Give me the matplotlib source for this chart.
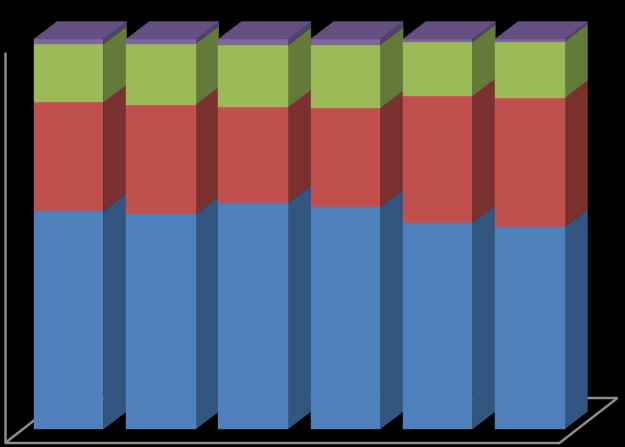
import matplotlib
matplotlib.use("Agg")
import matplotlib.pyplot as plt
import numpy as np

blue = [55.9, 55.1, 57.9, 56.9, 52.8, 51.8]
red = [27.9, 28.1, 24.6, 25.4, 32.6, 33.1]
green = [14.9, 15.6, 15.9, 16.2, 13.8, 14.4]
purple = [1.3, 1.2, 1.6, 1.5, 0.8, 0.7]

series = [blue, red, green, purple]
front = ["#4F81BD", "#C0504D", "#9BBB59", "#8064A2"]
side = ["#335680", "#7B312F", "#647A38", "#52406F"]
top_colour = "#645080"
line_colour = "#8C8C8C"

PX = 92.2          # pixels per category
PY = 3.9           # pixels per percent
W = 69.4 / PX
DX = 23 / PX
DY = 17.5 / PY

fig = plt.figure(figsize=(6.25, 4.47), dpi=100, facecolor="black")
ax = fig.add_axes([0, 0, 1, 1], facecolor="black")
ax.set_xlim(-68.8 / PX, (625 - 68.8) / PX)
ax.set_ylim(-18 / PY, 429 / PY)
ax.axis("off")

# wall and floor outline
fx0, fx1 = -0.692, 5.322
fy = -14 / PY
fdx, fdy = 58 / PX, 45 / PY
ax.plot([fx0, fx0], [fy, 377 / PY], color=line_colour, lw=1.8, zorder=1, solid_capstyle="butt")
ax.plot([fx0 + fdx, fx0, fx1, fx1 + fdx, fx0 + fdx], [fy + fdy, fy, fy, fy + fdy, fy + fdy],
        color=line_colour, lw=1.8, zorder=1, solid_joinstyle="miter")

for i in range(len(blue)):
    x0, x1 = i - W / 2, i + W / 2
    base = 0.0
    z = 2 + i
    for k, vals in enumerate(series):
        t = base + vals[i]
        ax.fill([x1, x1 + DX, x1 + DX, x1], [base, base + DY, t + DY, t],
                color=side[k], lw=0.3, zorder=z)
        ax.fill([x0, x1, x1, x0], [base, base, t, t], color=front[k], lw=0.3, zorder=z)
        base = t
    ax.fill([x0, x1, x1 + DX, x0 + DX], [base, base, base + DY, base + DY],
            color=top_colour, lw=0.3, zorder=z)

fig.savefig("out.png", dpi=100, facecolor="black")
